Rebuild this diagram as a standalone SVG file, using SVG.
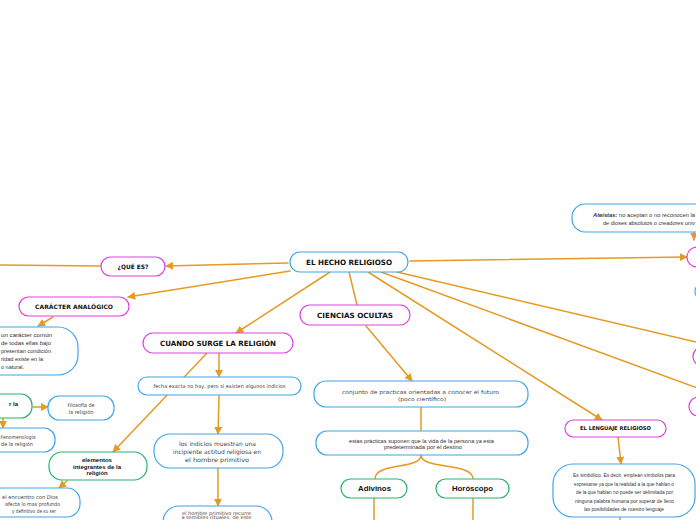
<svg xmlns="http://www.w3.org/2000/svg" width="696" height="520" viewBox="0 0 696 520">
<defs>
<marker id="ah" markerUnits="userSpaceOnUse" markerWidth="8" markerHeight="8" viewBox="0 0 10 10" refX="9" refY="5" orient="auto">
<path d="M0,0 L10,5 L0,10 Z" fill="#e59a23"/>
</marker>
<style>
.c{fill:none;stroke:#e59a23;stroke-width:1.5;stroke-linecap:round}
.a{marker-end:url(#ah)}
.pk{fill:#fff;stroke:#e03ee6;stroke-width:1.2}
.bl{fill:#fff;stroke:#3fa6ea;stroke-width:1.2}
.gr{fill:#fff;stroke:#27b36a;stroke-width:1.2}
.t{font-family:"DejaVu Sans",Verdana,sans-serif;font-weight:bold;fill:#111;text-anchor:middle}
.tb{font-family:"Liberation Sans",Arial,sans-serif;font-weight:bold;fill:#111;text-anchor:middle}
.b{font-family:"DejaVu Sans",Verdana,sans-serif;fill:#444;text-anchor:middle}
.n{font-family:"Liberation Sans",Arial,sans-serif;fill:#333;text-anchor:middle}
</style>
</defs>
<rect width="696" height="520" fill="#fff"/>
<g id="connectors">
<path class="c a" d="M288,263 L166,266"/>
<path class="c" d="M101,266 L0,265"/>
<path class="c a" d="M290,271 L128,297"/>
<path class="c a" d="M53,317 L38,326"/>
<path class="c a" d="M33,407 L48,407"/>
<path class="c a" d="M3,418 L3,428"/>
<path class="c a" d="M207,353 L113,452"/>
<path class="c a" d="M67,481 L59,488"/>
<path class="c a" d="M330,272 L236,333"/>
<path class="c a" d="M219,353 L219,377"/>
<path class="c a" d="M219,395 L218,434"/>
<path class="c a" d="M218,468 L218,506"/>
<path class="c" d="M349,272 L357,305"/>
<path class="c a" d="M366,326 L412,381"/>
<path class="c" d="M421,407 L421,431"/>
<path class="c" d="M421,455 C421,470 375,462 375,479"/>
<path class="c" d="M421,455 C421,470 473,462 473,479"/>
<path class="c" d="M374,498 L374,520"/>
<path class="c" d="M473,498 L473,520"/>
<path class="c a" d="M368,272 L602,420"/>
<path class="c a" d="M618,437 L621,464"/>
<path class="c" d="M620,517 L620,520"/>
<path class="c" d="M381,272 L700,389"/>
<path class="c" d="M397,272 L700,343"/>
<path class="c a" d="M410,261 L687,257"/>
<path class="c a" d="M694,231 L694,240"/>
</g>
<g id="n-main"><rect class="bl" x="290" y="252" width="118" height="20" rx="10"/><text class="t" x="349" y="264.6" font-size="7.3" textLength="86" lengthAdjust="spacingAndGlyphs">EL HECHO RELIGIOSO</text></g>
<g id="n-quees"><rect class="pk" x="101" y="257" width="64" height="19" rx="9.5"/><text class="t" x="133" y="268.6" font-size="6" textLength="31" lengthAdjust="spacingAndGlyphs">¿QUÉ ES?</text></g>
<g id="n-caracter"><rect class="pk" x="19" y="297" width="110" height="19" rx="9.5"/><text class="t" x="74" y="308.7" font-size="6" textLength="78" lengthAdjust="spacingAndGlyphs">CARÁCTER ANALÓGICO</text></g>
<g id="n-caracter-text"><rect class="bl" x="-40" y="327" width="118" height="48" rx="20"/>
<text class="n" font-size="6" style="text-anchor:start"><tspan x="1" y="337" textLength="51" lengthAdjust="spacingAndGlyphs">un carácter común</tspan><tspan x="1" y="345" textLength="50" lengthAdjust="spacingAndGlyphs">de todas ellas bajo</tspan><tspan x="1" y="353" textLength="50" lengthAdjust="spacingAndGlyphs">presentan condición</tspan><tspan x="1" y="361" textLength="42" lengthAdjust="spacingAndGlyphs">ridad existe en la</tspan><tspan x="1" y="369" textLength="23" lengthAdjust="spacingAndGlyphs">o natural.</tspan></text></g>
<g id="n-rla"><rect class="gr" x="-60" y="394" width="92" height="24" rx="11"/><text class="tb" x="18" y="406" font-size="6" style="text-anchor:end">r la</text></g>
<g id="n-filosofia"><rect class="bl" x="48" y="396" width="66" height="24" rx="11"/><text class="b" font-size="5.3"><tspan x="81" y="406.5" textLength="27" lengthAdjust="spacingAndGlyphs">Filosofía de</tspan><tspan x="81" y="413.5" textLength="25" lengthAdjust="spacingAndGlyphs">la religión</tspan></text></g>
<g id="n-fenomenologia"><rect class="bl" x="-30" y="428" width="85" height="24" rx="11"/><text class="b" font-size="5.3"><tspan x="18" y="439" textLength="35" lengthAdjust="spacingAndGlyphs">Fenomenología</tspan><tspan x="17" y="445.5" textLength="32" lengthAdjust="spacingAndGlyphs">de la religión</tspan></text></g>
<g id="n-elementos"><rect class="gr" x="49" y="452" width="98" height="28" rx="13"/><text class="tb" font-size="5.8"><tspan x="97" y="462" textLength="30" lengthAdjust="spacingAndGlyphs">elementos</tspan><tspan x="97" y="468.5" textLength="48" lengthAdjust="spacingAndGlyphs">integrantes de la</tspan><tspan x="97" y="475">religión</tspan></text></g>
<g id="n-encuentro"><rect class="bl" x="-20" y="488" width="100" height="29" rx="13"/><text class="b" font-size="5.3"><tspan x="30" y="499" textLength="56" lengthAdjust="spacingAndGlyphs">el encuentro con Dios</tspan><tspan x="32.5" y="506" textLength="55" lengthAdjust="spacingAndGlyphs">afecta lo mas profundo</tspan><tspan x="34" y="513" textLength="44" lengthAdjust="spacingAndGlyphs">y definitivo de su ser</tspan></text></g>
<g id="n-cuando"><rect class="pk" x="143" y="333" width="150" height="20" rx="10"/><text class="t" x="218" y="345.5" font-size="7.2" textLength="116" lengthAdjust="spacingAndGlyphs">CUANDO SURGE LA RELIGIÓN</text></g>
<g id="n-fecha"><rect class="bl" x="138" y="377" width="163" height="18" rx="9"/><text class="b" x="219.5" y="388" font-size="5.2" textLength="132" lengthAdjust="spacingAndGlyphs">fecha exacta no hay, pero si existen algunos indicios</text></g>
<g id="n-indicios"><rect class="bl" x="154" y="434" width="129" height="34" rx="16"/><text class="b" font-size="6"><tspan x="217.5" y="446" textLength="77" lengthAdjust="spacingAndGlyphs">los indicios muestran una</tspan><tspan x="217" y="454" textLength="88" lengthAdjust="spacingAndGlyphs">incipiente actitud religiosa en</tspan><tspan x="217" y="461.5" textLength="64" lengthAdjust="spacingAndGlyphs">el hombre primitivo</tspan></text></g>
<g id="n-hombre"><rect class="bl" x="163" y="506" width="109" height="40" rx="16"/><text class="b" font-size="5"><tspan x="216.5" y="514.5" textLength="69" lengthAdjust="spacingAndGlyphs">el hombre primitivo recurre</tspan><tspan x="216.5" y="519" textLength="70" lengthAdjust="spacingAndGlyphs">a temibles rituales, de este</tspan></text></g>
<g id="n-ciencias"><rect class="pk" x="300" y="305" width="110" height="20" rx="10"/><text class="t" x="355" y="317.5" font-size="7.2" textLength="76" lengthAdjust="spacingAndGlyphs">CIENCIAS OCULTAS</text></g>
<g id="n-conjunto"><rect class="bl" x="314" y="381" width="214" height="26" rx="12"/><text class="b" font-size="5.3"><tspan x="420.5" y="394" textLength="157" lengthAdjust="spacingAndGlyphs">conjunto de practicas orientadas a conocer el futuro</tspan><tspan x="422" y="400.5" textLength="48" lengthAdjust="spacingAndGlyphs">(poco científico)</tspan></text></g>
<g id="n-estas"><rect class="bl" x="316" y="431" width="212" height="24" rx="11"/><text class="n" font-size="5.2"><tspan x="421.5" y="443" textLength="145" lengthAdjust="spacingAndGlyphs">estas prácticas suponen que la vida de la persona ya esta</tspan><tspan x="423" y="449" textLength="78" lengthAdjust="spacingAndGlyphs">predeterminada por el destino</tspan></text></g>
<g id="n-adivinos"><rect class="gr" x="341" y="479" width="66" height="19" rx="9.5"/><text class="tb" x="374.5" y="491.3" font-size="7.8" textLength="33" lengthAdjust="spacingAndGlyphs">Adivinos</text></g>
<g id="n-horoscopo"><rect class="gr" x="436" y="479" width="73" height="19" rx="9.5"/><text class="tb" x="472.5" y="491.3" font-size="7.8" textLength="41" lengthAdjust="spacingAndGlyphs">Horóscopo</text></g>
<g id="n-lenguaje"><rect class="pk" x="565" y="420" width="101" height="17" rx="8.5"/><text class="t" x="615.5" y="430.4" font-size="5.3" textLength="71" lengthAdjust="spacingAndGlyphs">EL LENGUAJE RELIGIOSO</text></g>
<g id="n-simbolico"><rect class="bl" x="553" y="464" width="142" height="53" rx="20"/><text class="n" font-size="5"><tspan x="624" y="477" textLength="102" lengthAdjust="spacingAndGlyphs">Es simbólico. Es decir, emplean símbolos para</tspan><tspan x="624" y="485.5" textLength="100" lengthAdjust="spacingAndGlyphs">expresarse ya que la realidad a la que hablan o</tspan><tspan x="624.5" y="494" textLength="97" lengthAdjust="spacingAndGlyphs">de la que hablan no puede ser delimitada por</tspan><tspan x="624.5" y="502.5" textLength="99" lengthAdjust="spacingAndGlyphs">ninguna palabra humana por superar de lleno</tspan><tspan x="624" y="511" textLength="80" lengthAdjust="spacingAndGlyphs">las posibilidades de nuestro lenguaje</tspan></text></g>
<g id="n-ateistas"><rect class="bl" x="572" y="204" width="160" height="28" rx="13"/><text class="n" font-size="5.5" style="text-anchor:start"><tspan x="593" y="217" textLength="102" lengthAdjust="spacingAndGlyphs"><tspan font-weight="bold" font-style="italic">Ateístas:</tspan> no aceptan o no reconocen la</tspan><tspan x="603" y="225" textLength="92" lengthAdjust="spacingAndGlyphs">de dioses absolutos o creadores univ</tspan></text></g>
<g id="n-right1"><rect class="pk" x="687" y="247" width="60" height="20" rx="10"/></g>
<g id="n-right2"><rect class="bl" x="695" y="283" width="60" height="17" rx="8.5"/></g>
<g id="n-right3"><rect class="pk" x="693" y="347" width="60" height="19" rx="9.5"/></g>
<g id="n-right4"><rect class="pk" x="689" y="397" width="60" height="19" rx="9.5"/></g>
</svg>
